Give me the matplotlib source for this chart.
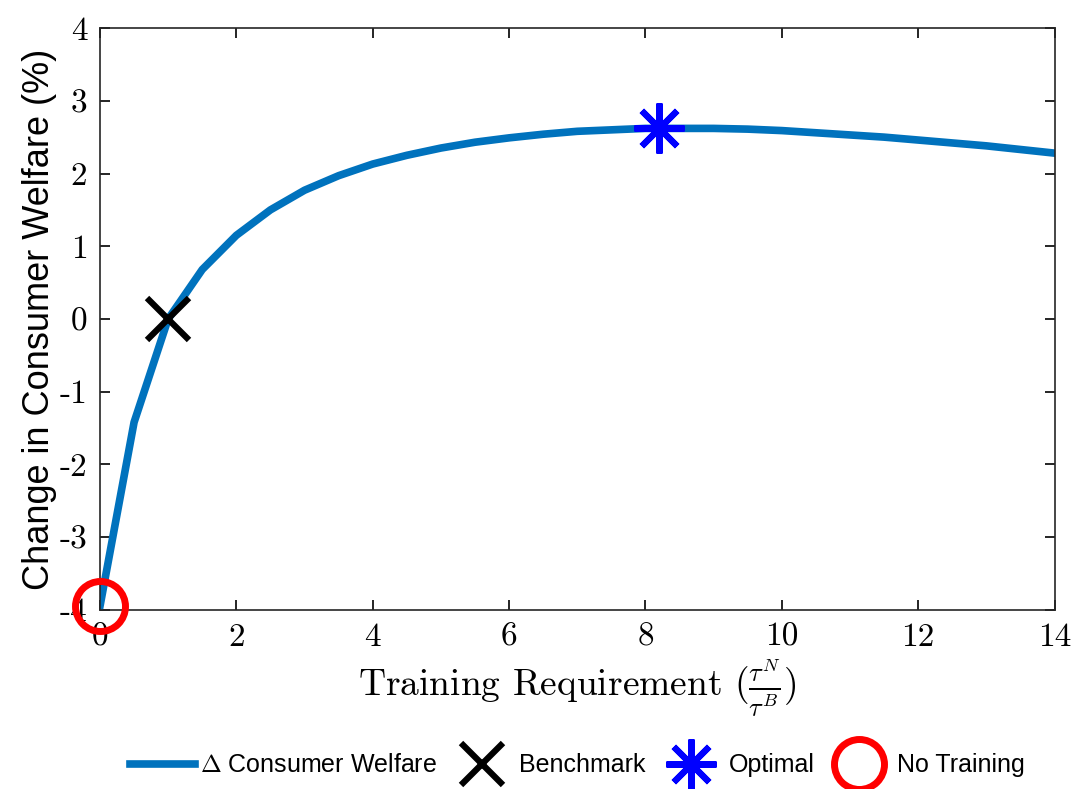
import matplotlib
matplotlib.use('Agg')
import matplotlib.pyplot as plt

plt.rcParams['mathtext.fontset'] = 'cm'
plt.rcParams['axes.unicode_minus'] = False

# training requirement tau^N / tau^B and % change in consumer welfare
ratio = [0, 0.5, 1, 1.5, 2, 2.5, 3, 3.5, 4, 4.5, 5, 5.5, 6, 6.5, 7, 7.5,
         8, 8.5, 9, 9.5, 10, 10.5, 11, 11.5, 12, 12.5, 13, 13.5, 14]
welfare = [-3.95, -1.42, 0.0, 0.68, 1.15, 1.5, 1.77, 1.97, 2.13, 2.25, 2.35,
           2.43, 2.49, 2.54, 2.58, 2.60, 2.62, 2.62, 2.62, 2.61, 2.59, 2.56,
           2.53, 2.50, 2.46, 2.42, 2.38, 2.33, 2.28]
bench = (1, 0.0)
optimal = (8.2, 2.62)
no_training = (0, -3.95)

xticks = [0, 2, 4, 6, 8, 10, 12, 14]
yticks = [-4, -3, -2, -1, 0, 1, 2, 3, 4]

fig = plt.figure(figsize=(10.75, 7.89), dpi=100)
ax = fig.add_axes([0.093, 0.2269, 0.888, 0.7376])

ax.plot(ratio, welfare, color='#0072BD', lw=5.5, label=r'$\Delta$ Consumer Welfare', zorder=2)
ax.plot(*bench, ls='none', marker='x', ms=30, mew=4.5, color='black',
        label='Benchmark', clip_on=False, zorder=3)
ax.plot(*optimal, ls='none', marker=(8, 2, 0), ms=36, mew=4.5, color='blue',
        label='Optimal', clip_on=False, zorder=3)
ax.plot(*no_training, ls='none', marker='o', ms=36, mew=5, mfc='none', mec='red',
        label='No Training', clip_on=False, zorder=3)

ax.set_xlim(0, 14)
ax.set_ylim(-4, 4)
ax.set_xticks(xticks)
ax.set_yticks(yticks)
ax.set_xticklabels([str(t) for t in xticks], fontfamily='cmr10', fontsize=24)
ax.set_yticklabels([str(t) for t in yticks], fontfamily='cmr10', fontsize=24)
ax.tick_params(direction='in', length=7, width=1.2, top=True, right=True, pad=9)
for s in ax.spines.values():
    s.set_linewidth(1.2)
    s.set_color('#262626')

ax.set_xlabel(r'Training Requirement ($\frac{\tau^N}{\tau^B}$)', fontfamily='cmr10',
              fontsize=27, labelpad=4)
ax.set_ylabel('Change in Consumer Welfare (%)', fontfamily='Liberation Sans',
              fontsize=26, labelpad=2)

fig.legend(loc='center', bbox_to_anchor=(0.537, 0.03), ncol=4, frameon=False,
           prop={'family': 'Liberation Sans', 'size': 18}, handlelength=2.6,
           handletextpad=0.2, columnspacing=0.5, markerscale=1.0)

fig.savefig('out.png', dpi=100)
